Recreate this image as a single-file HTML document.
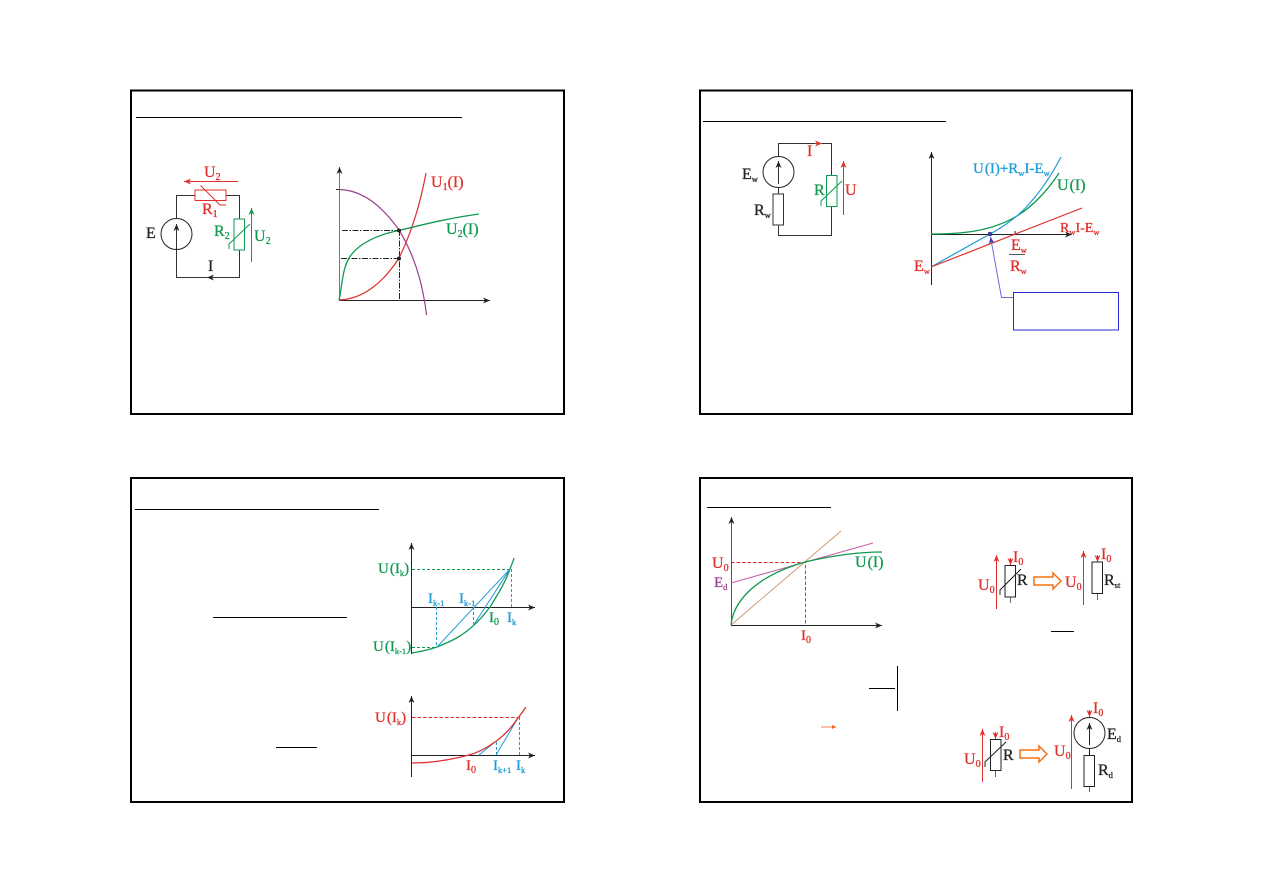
<!DOCTYPE html>
<html>
<head>
<meta charset="utf-8">
<style>
html,body{margin:0;padding:0;background:#fff;}
svg{display:block;}
text{font-family:"Liberation Serif",serif;font-size:16px;stroke-width:.3px;}
.s{font-size:10px;}
.t{font-size:8.500px;}
.r{fill:#e0302c;stroke:#e0302c;} .g{fill:#0f9a50;stroke:#0f9a50;} .b{fill:#1e9ad6;stroke:#1e9ad6;} .p{fill:#9a3f8e;stroke:#9a3f8e;} .k{fill:#222;stroke:#222;}
path,line,rect,circle{fill:none;}
</style>
</head>
<body>
<svg width="1263" height="893" viewBox="0 0 1263 893" xmlns="http://www.w3.org/2000/svg">
<defs>
<marker id="ak" markerWidth="8" markerHeight="6" refX="7" refY="3" orient="auto" markerUnits="userSpaceOnUse"><path d="M0 0L7 3L0 6L2 3Z" style="fill:#222"/></marker>
<marker id="ar" markerWidth="8" markerHeight="6" refX="7" refY="3" orient="auto" markerUnits="userSpaceOnUse"><path d="M0 0L7 3L0 6L2 3Z" style="fill:#e0302c"/></marker>
<marker id="ag" markerWidth="8" markerHeight="6" refX="7" refY="3" orient="auto" markerUnits="userSpaceOnUse"><path d="M0 0L7 3L0 6L2 3Z" style="fill:#0f9a50"/></marker>
<marker id="au" markerWidth="8" markerHeight="6" refX="7" refY="3" orient="auto" markerUnits="userSpaceOnUse"><path d="M0 0L7 3L0 6L2 3Z" style="fill:#3a3ad0"/></marker>
</defs>

<!-- Panels -->
<g stroke="#000" stroke-width="2">
<rect x="131" y="90.500" width="433" height="323.500" style="fill:#fff"/>
<rect x="700" y="90.500" width="432" height="323.500" style="fill:#fff"/>
<rect x="131" y="478" width="433" height="324" style="fill:#fff"/>
<rect x="700" y="478" width="432" height="324" style="fill:#fff"/>
</g>
<!-- Title rules -->
<g stroke="#000" stroke-width="1">
<line x1="136" y1="117.500" x2="462" y2="117.500"/>
<line x1="703" y1="121.500" x2="946" y2="121.500"/>
<line x1="135" y1="509.500" x2="379" y2="509.500"/>
<line x1="707" y1="507.500" x2="831" y2="507.500"/>
<line x1="213" y1="617.500" x2="347" y2="617.500"/>
<line x1="276" y1="747.500" x2="317" y2="747.500"/>
<line x1="1051" y1="631.500" x2="1074" y2="631.500"/>
<line x1="869" y1="688.500" x2="895" y2="688.500"/>
<line x1="897.500" y1="666" x2="897.500" y2="711"/>
</g>

<!-- Panel 1 circuit -->
<g stroke="#333" stroke-width="1">
<path d="M195 195.500H176.500V218.500M176.500 249.500V277.500H239.500V250M239.500 219V195.500H226"/>
<circle cx="176.500" cy="234" r="15.500" stroke="#222"/>
<line x1="176.500" y1="249" x2="176.500" y2="224" marker-end="url(#ak)"/>
<line x1="213" y1="277.500" x2="207" y2="277.500" marker-end="url(#ak)"/>
</g>
<g stroke="#e0302c" stroke-width="1">
<rect x="195" y="190" width="31" height="10.500"/>
<path d="M200.500 185.500L220 205H226"/>
<line x1="238" y1="181.500" x2="184" y2="181.500" marker-end="url(#ar)"/>
</g>
<g stroke="#0f9a50" stroke-width="1">
<rect x="234" y="219" width="10.500" height="31"/>
<path d="M229 249V244L250 224"/>
<line x1="251.500" y1="262" x2="251.500" y2="208" marker-end="url(#ag)"/>
</g>
<text x="204" y="177" class="r">U<tspan class="s" dy="3">2</tspan></text>
<text x="202" y="214" class="r">R<tspan class="s" dy="3">1</tspan></text>
<text x="214" y="236" class="g">R<tspan class="s" dy="3">2</tspan></text>
<text x="254" y="241" class="g">U<tspan class="s" dy="3">2</tspan></text>
<text x="146" y="238" class="k">E</text>
<text x="208" y="271" class="k">I</text>

<!-- Panel 1 chart -->
<line x1="339.500" y1="300" x2="339.500" y2="167" stroke="#777" stroke-width="1" marker-end="url(#ak)"/>
<line x1="339" y1="300.500" x2="490" y2="300.500" stroke="#222" stroke-width="1" marker-end="url(#ak)"/>
<line x1="336" y1="189.500" x2="339" y2="189.500" stroke="#222" stroke-width="1"/>
<path d="M342 230.500H399M341 258.500H399M399.500 230V300" stroke="#222" stroke-width="1" stroke-dasharray="6 1.500 1.500 1.500"/>
<path d="M339 300C365 299 385 280 399 258C412 232 420 205 426 173" stroke="#e0302c" stroke-width="1.200"/>
<path d="M339 300C342 288 342 270 349 258C358 243 380 234 399 230.500C425 224 450 218 479 214" stroke="#0f9a50" stroke-width="1.300"/>
<path d="M339 189.500C365 190 385 210 399 230C415 256 423 285 426.500 315" stroke="#9a3f8e" stroke-width="1.200"/>
<circle cx="399" cy="230.500" r="2" style="fill:#222"/>
<circle cx="399" cy="258.500" r="2" style="fill:#222"/>
<text x="431" y="187" class="r">U<tspan class="s" dy="3">1</tspan><tspan dy="-3">(I)</tspan></text>
<text x="446" y="234" class="g">U<tspan class="s" dy="3">2</tspan><tspan dy="-3">(I)</tspan></text>

<!-- Panel 2 circuit -->
<g stroke="#333" stroke-width="1">
<path d="M778.500 156.500V143.500H831.500V175M831.500 206.500V235.500H778.500V225M778.500 194V187.500"/>
<circle cx="778.500" cy="172" r="15.500" stroke="#222"/>
<line x1="778.500" y1="184" x2="778.500" y2="161" marker-end="url(#ak)"/>
<rect x="773" y="194" width="10.500" height="31"/>
</g>
<line x1="815" y1="143.500" x2="822" y2="143.500" stroke="#e0302c" stroke-width="1" marker-end="url(#ar)"/>
<g stroke="#0f9a50" stroke-width="1">
<rect x="826.500" y="175.500" width="10.500" height="31"/>
<path d="M821 206V201L842 181"/>
</g>
<line x1="843.500" y1="215" x2="843.500" y2="161" stroke="#e0302c" stroke-width="1" marker-end="url(#ar)"/>
<text x="807" y="156" class="r">I</text>
<text x="814" y="195" class="g">R</text>
<text x="845" y="195" class="r">U</text>
<text x="742" y="179" class="k">E<tspan class="t" dy="3">w</tspan></text>
<text x="754" y="215" class="k">R<tspan class="t" dy="3">w</tspan></text>

<!-- Panel 2 chart -->
<line x1="931.500" y1="285" x2="931.500" y2="152" stroke="#222" stroke-width="1" marker-end="url(#ak)"/>
<line x1="931" y1="234.500" x2="1072" y2="234.500" stroke="#222" stroke-width="1" marker-end="url(#ak)"/>
<line x1="1015" y1="231" x2="1015" y2="234" stroke="#222" stroke-width="1"/>
<path d="M931 234C960 234 990 232 1017 216C1035 205 1050 187 1059 173" stroke="#0f9a50" stroke-width="1.300"/>
<path d="M931 267L990 234C1000 229 1008 223 1017 216C1035 200 1050 178 1061 157" stroke="#1e9ad6" stroke-width="1.200"/>
<line x1="931" y1="267" x2="1082" y2="208" stroke="#e0302c" stroke-width="1.200"/>
<circle cx="990" cy="234" r="2" style="fill:#3a3ad0" stroke="#333" stroke-width=".5"/>
<path d="M1013 297.500H1001.500L990.500 237" stroke="#6a6ae0" stroke-width="1" marker-end="url(#au)"/>
<rect x="1013.500" y="292.500" width="105" height="37.500" stroke="#2a2ad8" stroke-width="1"/>
<text x="973" y="173" class="b" style="font-size:15px">U<tspan dx="1">(I)+R</tspan><tspan class="t" dy="3">w</tspan><tspan dy="-3">I-E</tspan><tspan class="t" dy="3">w</tspan></text>
<text x="1057" y="190" class="g">U<tspan dx="1">(I)</tspan></text>
<text x="1060" y="232" class="r" style="font-size:14px">R<tspan class="t" dy="3">w</tspan><tspan dy="-3">I-E</tspan><tspan class="t" dy="3">w</tspan></text>
<text x="1011" y="250" class="r">E<tspan class="t" dy="3">w</tspan></text>
<line x1="1009" y1="254.500" x2="1025" y2="254.500" stroke="#555" stroke-width="1"/>
<text x="1010" y="271" class="r">R<tspan class="t" dy="3">w</tspan></text>
<text x="914" y="271" class="r">E<tspan class="t" dy="3">w</tspan></text>

<!-- Panel 3 chart 1 -->
<line x1="411.500" y1="654" x2="411.500" y2="543" stroke="#222" stroke-width="1" marker-end="url(#ak)"/>
<line x1="411" y1="607.500" x2="535" y2="607.500" stroke="#222" stroke-width="1" marker-end="url(#ak)"/>
<path d="M412 569.500H510M412 647.500H437" stroke="#0f9a50" stroke-width="1" stroke-dasharray="3 2"/>
<path d="M436.500 607V647M473.500 607V626M511.500 569V607" stroke="#1e9ad6" stroke-width="1" stroke-dasharray="3 2"/>
<path d="M411.500 653C425 651 437 647 437 647C452 641 462 636 473 626C482 618 486 612 490 607C498 594 505 583 510 569C511 566 513 562 514 558" stroke="#0f9a50" stroke-width="1.300"/>
<path d="M437 647L510 569L473 626" stroke="#1e9ad6" stroke-width="1"/>
<text x="378" y="573" class="g" style="font-size:15px">U<tspan dx="1">(I</tspan><tspan class="t" dy="3">k</tspan><tspan dy="-3">)</tspan></text>
<text x="373" y="651" class="g" style="font-size:15px">U<tspan dx="1">(I</tspan><tspan class="t" dy="3">k-1</tspan><tspan dy="-3">)</tspan></text>
<text x="428" y="603" class="b" style="font-size:15px">I<tspan class="t" dy="3">k-1</tspan></text>
<text x="459" y="603" class="b" style="font-size:15px">I<tspan class="t" dy="3">k-1</tspan></text>
<text x="489" y="622" class="g" style="font-size:15px">I<tspan class="s" dy="3">0</tspan></text>
<text x="507" y="622" class="b" style="font-size:15px">I<tspan class="t" dy="3">k</tspan></text>

<!-- Panel 3 chart 2 -->
<line x1="411.500" y1="777" x2="411.500" y2="696" stroke="#222" stroke-width="1" marker-end="url(#ak)"/>
<line x1="411" y1="755.500" x2="535" y2="755.500" stroke="#222" stroke-width="1" marker-end="url(#ak)"/>
<line x1="412" y1="717.500" x2="518" y2="717.500" stroke="#e0302c" stroke-width="1" stroke-dasharray="3.500 2"/>
<path d="M519.500 717V755M496.500 742V755" stroke="#1e9ad6" stroke-width="1" stroke-dasharray="3 2"/>
<path d="M518 718L496 755M495 742L479 755" stroke="#1e9ad6" stroke-width="1"/>
<path d="M411.500 763C430 763 450 760 469 755C480 752 488 747 495 742C505 735 512 727 518 718C521 714 524 710 526 707" stroke="#e0302c" stroke-width="1.300"/>
<text x="375" y="722" class="r" style="font-size:15px">U<tspan dx="1">(I</tspan><tspan class="t" dy="3">k</tspan><tspan dy="-3">)</tspan></text>
<text x="466" y="770" class="r" style="font-size:15px">I<tspan class="s" dy="3">0</tspan></text>
<text x="493" y="770" class="b" style="font-size:15px">I<tspan class="t" dy="3">k+1</tspan></text>
<text x="516" y="770" class="b" style="font-size:15px">I<tspan class="t" dy="3">k</tspan></text>

<!-- Panel 4 chart -->
<line x1="731.500" y1="625.500" x2="731.500" y2="517" stroke="#555" stroke-width="1" marker-end="url(#ak)"/>
<line x1="731" y1="625.500" x2="882" y2="625.500" stroke="#222" stroke-width="1" marker-end="url(#ak)"/>
<path d="M731 562.500H805.500V625" stroke="#e0302c" stroke-width="1" stroke-dasharray="3.500 2"/>
<line x1="731" y1="625" x2="841" y2="531" stroke="#c99a72" stroke-width="1"/>
<line x1="731" y1="583" x2="873" y2="543" stroke="#c860a8" stroke-width="1.100"/>
<path d="M731 625C733 605 750 578 805 562C835 555 860 552 882 552" stroke="#0f9a50" stroke-width="1.300"/>
<text x="712" y="568" class="r">U<tspan class="s" dy="3">0</tspan></text>
<text x="714" y="587" class="p" style="font-size:15px">E<tspan class="t" dy="3">d</tspan></text>
<text x="855" y="567" class="g">U<tspan dx="1">(I)</tspan></text>
<text x="801" y="640" class="r" style="font-size:15px">I<tspan class="s" dy="3">0</tspan></text>

<!-- small orange arrow -->
<line x1="821" y1="727" x2="836" y2="727" stroke="#f58040" stroke-width="1" />
<path d="M832 725L836 727L832 729Z" style="fill:#f06010"/>

<!-- Upper-right equivalents -->
<line x1="996.500" y1="609" x2="996.500" y2="555" stroke="#e0302c" stroke-width="1" marker-end="url(#ar)"/>
<line x1="1010.500" y1="558" x2="1010.500" y2="565" stroke="#e0302c" stroke-width="1" marker-end="url(#ar)"/>
<rect x="1005" y="565.500" width="10.500" height="31.500" stroke="#222" stroke-width="1"/>
<line x1="1010.500" y1="597" x2="1010.500" y2="603" stroke="#666" stroke-width="1"/>
<path d="M1000 595V590L1021 569" stroke="#222" stroke-width="1"/>
<text x="1013" y="562" class="r">I<tspan class="s" dy="3">0</tspan></text>
<text x="1017" y="585" class="k">R</text>
<text x="978" y="590" class="r">U<tspan class="s" dy="3">0</tspan></text>
<path d="M1034 577H1053V573L1061 581L1053 589V585H1034Z" stroke="#f57010" stroke-width="1.500"/>
<text x="1065" y="587" class="r">U<tspan class="s" dy="3">0</tspan></text>
<line x1="1083.500" y1="605" x2="1083.500" y2="551" stroke="#e0302c" stroke-width="1" marker-end="url(#ar)"/>
<line x1="1097.500" y1="555" x2="1097.500" y2="562" stroke="#e0302c" stroke-width="1" marker-end="url(#ar)"/>
<rect x="1092" y="562" width="10.500" height="31.500" stroke="#222" stroke-width="1"/>
<line x1="1097.500" y1="594" x2="1097.500" y2="600" stroke="#666" stroke-width="1"/>
<text x="1101" y="559" class="r">I<tspan class="s" dy="3">0</tspan></text>
<text x="1104" y="585" class="k">R<tspan class="t" dy="3">st</tspan></text>

<!-- Lower-right equivalents -->
<line x1="982.500" y1="782" x2="982.500" y2="729" stroke="#e0302c" stroke-width="1" marker-end="url(#ar)"/>
<line x1="995.500" y1="732" x2="995.500" y2="739" stroke="#e0302c" stroke-width="1" marker-end="url(#ar)"/>
<rect x="990.500" y="739.500" width="10.500" height="31" stroke="#222" stroke-width="1"/>
<line x1="995.500" y1="771" x2="995.500" y2="777" stroke="#666" stroke-width="1"/>
<path d="M985 767V762L1006 742" stroke="#222" stroke-width="1"/>
<text x="999" y="737" class="r">I<tspan class="s" dy="3">0</tspan></text>
<text x="1003" y="760" class="k">R</text>
<text x="964" y="764" class="r">U<tspan class="s" dy="3">0</tspan></text>
<path d="M1020 750H1039V746L1047 754L1039 762V758H1020Z" stroke="#f57010" stroke-width="1.500"/>
<text x="1054" y="756" class="r">U<tspan class="s" dy="3">0</tspan></text>
<line x1="1071.500" y1="789" x2="1071.500" y2="715" stroke="#e0302c" stroke-width="1" marker-end="url(#ar)"/>
<line x1="1089.500" y1="710" x2="1089.500" y2="717" stroke="#e0302c" stroke-width="1" marker-end="url(#ar)"/>
<circle cx="1089.500" cy="733" r="15.500" stroke="#222" stroke-width="1"/>
<line x1="1089.500" y1="745" x2="1089.500" y2="723" stroke="#222" stroke-width="1" marker-end="url(#ak)"/>
<line x1="1089.500" y1="749" x2="1089.500" y2="755" stroke="#222" stroke-width="1"/>
<rect x="1084" y="755.500" width="10.500" height="31" stroke="#222" stroke-width="1"/>
<line x1="1089.500" y1="787" x2="1089.500" y2="792" stroke="#666" stroke-width="1"/>
<text x="1093" y="713" class="r">I<tspan class="s" dy="3">0</tspan></text>
<text x="1107" y="739" class="k">E<tspan class="t" dy="3">d</tspan></text>
<text x="1098" y="775" class="k">R<tspan class="t" dy="3">d</tspan></text>
</svg>
</body>
</html>
